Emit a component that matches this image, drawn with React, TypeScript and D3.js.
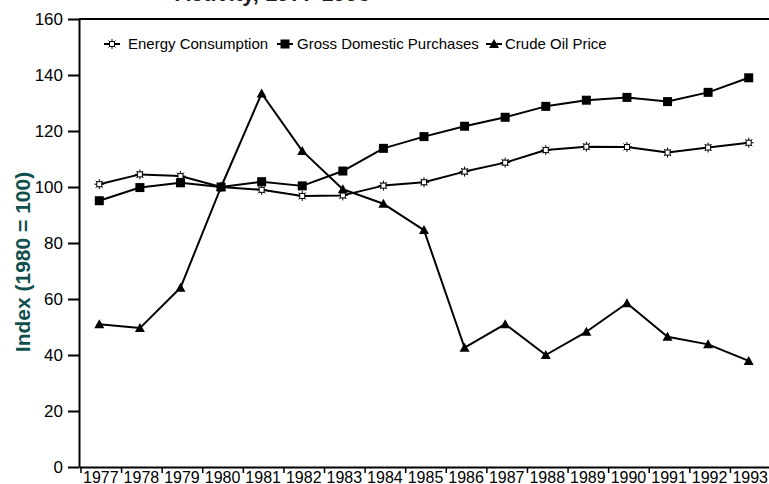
import React, { useRef, useEffect } from "react";
import * as d3 from "d3";

const years = ["1977", "1978", "1979", "1980", "1981", "1982", "1983", "1984", "1985", "1986", "1987", "1988", "1989", "1990", "1991", "1992", "1993"];
const energyConsumption = [101, 104.5, 103.9, 100, 99, 96.8, 97, 100.5, 101.7, 105.5, 108.7, 113.2, 114.4, 114.3, 112.3, 114.1, 115.8];
const grossDomesticPurchases = [95.1, 99.8, 101.5, 100, 101.9, 100.4, 105.7, 113.8, 118, 121.7, 124.9, 128.8, 131, 132, 130.5, 133.8, 139];
const crudeOilPrice = [51, 49.6, 64, 100, 133.4, 112.9, 99.2, 94, 84.6, 42.6, 51, 40, 48.3, 58.5, 46.5, 43.8, 37.9];
const yTicks = [0, 20, 40, 60, 80, 100, 120, 140, 160];

const FONT = "'Liberation Sans', Arial, Helvetica, sans-serif";

const App: React.FC = () => {
    const svgRef = useRef<SVGSVGElement | null>(null);
    const width = 769;
    const height = 484;

    useEffect(() => {
        if (!svgRef.current) return;
        const svg = d3.select(svgRef.current);
        svg.selectAll("*").remove();

        const left = 79;
        const right = 769;
        const top = 19;
        const bottom = 467;

        const x = d3.scaleBand().domain(years).range([left, right]).padding(0);
        const y = d3.scaleLinear().domain([0, 160]).range([bottom, top]);
        const cx = (d: string) => x(d)! + x.bandwidth() / 2;

        // title line, cut off by the top edge
        svg.append("text")
            .attr("x", 175)
            .attr("y", 0.5)
            .attr("font-family", FONT)
            .attr("font-weight", "bold")
            .attr("font-size", 22)
            .attr("fill", "#222")
            .text("Activity, 1977-1993");

        // top border
        svg.append("line")
            .attr("x1", left).attr("x2", right)
            .attr("y1", y(160)).attr("y2", y(160))
            .attr("stroke", "#000").attr("stroke-width", 2);

        // y axis
        const yAxis = svg.append("g")
            .attr("transform", `translate(${left},0)`)
            .call(d3.axisLeft(y).tickValues(yTicks).tickSize(11).tickSizeOuter(0).tickPadding(5));
        yAxis.select(".domain").attr("stroke", "#000").attr("stroke-width", 2);
        yAxis.selectAll(".tick line").attr("stroke", "#000").attr("stroke-width", 2);
        yAxis.selectAll(".tick text")
            .attr("font-family", FONT)
            .attr("font-size", 17)
            .attr("fill", "#000");

        // x axis
        const xAxis = svg.append("g")
            .attr("transform", `translate(0,${bottom})`)
            .call(d3.axisBottom(x).tickSize(0).tickPadding(0));
        xAxis.select(".domain").attr("stroke", "#000").attr("stroke-width", 2);
        xAxis.selectAll(".tick text")
            .attr("font-family", FONT)
            .attr("font-size", 16)
            .attr("fill", "#000")
            .attr("dx", 1.5)
            .attr("dy", null)
            .attr("y", 15.5);
        const bounds = years.map((d) => x(d)!).concat([right]);
        xAxis.selectAll(".bound")
            .data(bounds)
            .enter()
            .append("line")
            .attr("x1", (d) => d + 2).attr("x2", (d) => d + 2)
            .attr("y1", 0).attr("y2", 6)
            .attr("stroke", "#000").attr("stroke-width", 1.5);

        // y axis title
        svg.append("text")
            .attr("transform", `translate(30,262) rotate(-90)`)
            .attr("text-anchor", "middle")
            .attr("font-family", FONT)
            .attr("font-weight", "bold")
            .attr("font-size", 21)
            .attr("fill", "#0f4f4c")
            .text("Index (1980 = 100)");

        const line = d3.line<number>()
            .x((_, i) => cx(years[i]))
            .y((d) => y(d));

        const drawStar = (g: d3.Selection<SVGGElement, unknown, null, undefined>, px: number, py: number) => {
            const s = g.append("g").attr("transform", `translate(${px},${py})`);
            s.append("path")
                .attr("d", "M-5,0H5M0,-5V5M-3.5,-3.5L3.5,3.5M-3.5,3.5L3.5,-3.5")
                .attr("stroke", "#000").attr("stroke-width", 1);
            s.append("rect")
                .attr("x", -2.5).attr("y", -2.5).attr("width", 5).attr("height", 5)
                .attr("fill", "#fff").attr("stroke", "#000").attr("stroke-width", 1);
        };
        const drawSquare = (g: d3.Selection<SVGGElement, unknown, null, undefined>, px: number, py: number) => {
            g.append("rect")
                .attr("x", px - 4.5).attr("y", py - 4.5)
                .attr("width", 9).attr("height", 9)
                .attr("fill", "#000");
        };
        const drawTriangle = (g: d3.Selection<SVGGElement, unknown, null, undefined>, px: number, py: number) => {
            g.append("path")
                .attr("d", `M${px},${py - 5}L${px + 5},${py + 4}L${px - 5},${py + 4}Z`)
                .attr("fill", "#000");
        };

        const series = [
            { name: "Energy Consumption", values: energyConsumption, marker: drawStar, lx: 112, tx: 128 },
            { name: "Gross Domestic Purchases", values: grossDomesticPurchases, marker: drawSquare, lx: 285, tx: 297 },
            { name: "Crude Oil Price", values: crudeOilPrice, marker: drawTriangle, lx: 494, tx: 505 },
        ];

        const plot = svg.append("g");
        series.forEach((s) => {
            plot.append("path")
                .datum(s.values)
                .attr("d", line)
                .attr("fill", "none")
                .attr("stroke", "#000")
                .attr("stroke-width", 2)
                .attr("stroke-linejoin", "round");
        });
        series.forEach((s) => {
            const g = plot.append("g");
            s.values.forEach((v, i) => s.marker(g, cx(years[i]), y(v)));
        });

        // legend
        const legend = svg.append("g");
        const ly = 44;
        series.forEach((s) => {
            const g = legend.append("g");
            g.append("line")
                .attr("x1", s.lx - 8).attr("x2", s.lx + 8)
                .attr("y1", ly).attr("y2", ly)
                .attr("stroke", "#000").attr("stroke-width", 2);
            s.marker(g, s.lx, ly);
            g.append("text")
                .attr("x", s.tx)
                .attr("y", ly)
                .attr("dy", "0.35em")
                .attr("font-family", FONT)
                .attr("font-size", 15)
                .attr("fill", "#000")
                .text(s.name);
        });
    }, []);

    return (
        <svg
            ref={svgRef}
            width={width}
            height={height}
            style={{ position: "absolute", left: 0, top: 0, overflow: "hidden", background: "#fff" }}
        />
    );
};

export default App;
